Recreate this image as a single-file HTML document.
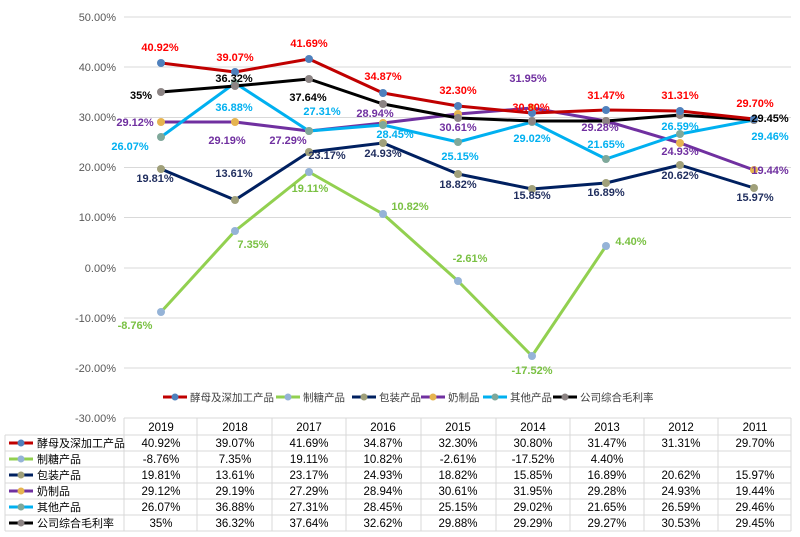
<!DOCTYPE html><html><head><meta charset="utf-8"><style>
body{margin:0;background:#fff;width:800px;height:532px;overflow:hidden}
svg text{font-family:"Liberation Sans","Noto Sans CJK SC",sans-serif}
</style></head><body>
<svg width="800" height="532" xmlns="http://www.w3.org/2000/svg">
<g stroke="#d9d9d9" stroke-width="1">
<line x1="124" x2="791" y1="17" y2="17"/><line x1="124" x2="791" y1="67" y2="67"/><line x1="124" x2="791" y1="117.5" y2="117.5"/><line x1="124" x2="791" y1="167.5" y2="167.5"/><line x1="124" x2="791" y1="217.5" y2="217.5"/><line x1="124" x2="791" y1="268" y2="268"/><line x1="124" x2="791" y1="318" y2="318"/><line x1="124" x2="791" y1="368" y2="368"/>
</g>
<g font-size="11" fill="#595959" text-anchor="end">
<text x="116" y="21">50.00%</text><text x="116" y="71">40.00%</text><text x="116" y="121">30.00%</text><text x="116" y="171">20.00%</text><text x="116" y="221">10.00%</text><text x="116" y="272">0.00%</text><text x="116" y="322">-10.00%</text><text x="116" y="372">-20.00%</text><text x="116" y="422">-30.00%</text>
</g>
<g fill="none" stroke-width="3" stroke-linejoin="round">
<polyline stroke="#7030a0" points="161,122 235,122 309,131 383,123 458,114 532,108 606,121 680,143 754,170"/>
<polyline stroke="#00b0f0" points="161,137 235,83 309,131 383,125 458,142 532,122 606,159 680,134 754,120"/>
<polyline stroke="#002060" points="161,169 235,200 309,152 383,143 458,174 532,189 606,183 680,165 754,188"/>
<polyline stroke="#92d050" points="161,312 235,231 309,172 383,214 458,281 532,356 606,246"/>
<polyline stroke="#000" points="161,92 235,86 309,79 383,104 458,118 532,121 606,121 680,115 754,120"/>
<polyline stroke="#c00000" points="161,63 235,72 309,59 383,93 458,106 532,113 606,110 680,111 754,119"/>
</g>
<g stroke="none">
<g fill="#e6b450"><circle cx="161" cy="122" r="4"/><circle cx="235" cy="122" r="4"/><circle cx="309" cy="131" r="4"/><circle cx="383" cy="123" r="4"/><circle cx="458" cy="114" r="4"/><circle cx="532" cy="108" r="4"/><circle cx="606" cy="121" r="4"/><circle cx="680" cy="143" r="4"/><circle cx="754" cy="170" r="4"/></g>
<g fill="#7fa89a"><circle cx="161" cy="137" r="4"/><circle cx="235" cy="83" r="4"/><circle cx="309" cy="131" r="4"/><circle cx="383" cy="125" r="4"/><circle cx="458" cy="142" r="4"/><circle cx="532" cy="122" r="4"/><circle cx="606" cy="159" r="4"/><circle cx="680" cy="134" r="4"/><circle cx="754" cy="120" r="4"/></g>
<g fill="#a0a07a"><circle cx="161" cy="169" r="4"/><circle cx="235" cy="200" r="4"/><circle cx="309" cy="152" r="4"/><circle cx="383" cy="143" r="4"/><circle cx="458" cy="174" r="4"/><circle cx="532" cy="189" r="4"/><circle cx="606" cy="183" r="4"/><circle cx="680" cy="165" r="4"/><circle cx="754" cy="188" r="4"/></g>
<g fill="#95b3d7"><circle cx="161" cy="312" r="4"/><circle cx="235" cy="231" r="4"/><circle cx="309" cy="172" r="4"/><circle cx="383" cy="214" r="4"/><circle cx="458" cy="281" r="4"/><circle cx="532" cy="356" r="4"/><circle cx="606" cy="246" r="4"/></g>
<g fill="#8c8484"><circle cx="161" cy="92" r="4"/><circle cx="235" cy="86" r="4"/><circle cx="309" cy="79" r="4"/><circle cx="383" cy="104" r="4"/><circle cx="458" cy="118" r="4"/><circle cx="532" cy="121" r="4"/><circle cx="606" cy="121" r="4"/><circle cx="680" cy="115" r="4"/><circle cx="754" cy="120" r="4"/></g>
<g fill="#4f81bd"><circle cx="161" cy="63" r="4"/><circle cx="235" cy="72" r="4"/><circle cx="309" cy="59" r="4"/><circle cx="383" cy="93" r="4"/><circle cx="458" cy="106" r="4"/><circle cx="532" cy="113" r="4"/><circle cx="606" cy="110" r="4"/><circle cx="680" cy="111" r="4"/><circle cx="754" cy="119" r="4"/></g>
</g>
<g font-size="11" font-weight="bold" text-anchor="middle">
<g fill="#ff0000"><text x="160" y="51">40.92%</text><text x="235" y="61">39.07%</text><text x="309" y="47">41.69%</text><text x="383" y="80">34.87%</text><text x="458" y="94">32.30%</text><text x="531" y="111">30.80%</text><text x="606" y="99">31.47%</text><text x="680" y="99">31.31%</text><text x="755" y="107">29.70%</text></g>
<g fill="#000"><text x="141" y="99">35%</text><text x="234" y="82">36.32%</text><text x="308" y="101">37.64%</text><text x="770" y="122">29.45%</text></g>
<g fill="#00b0f0"><text x="130" y="150">26.07%</text><text x="234" y="111">36.88%</text><text x="322" y="115">27.31%</text><text x="395" y="138">28.45%</text><text x="460" y="160">25.15%</text><text x="532" y="142">29.02%</text><text x="606" y="148">21.65%</text><text x="680" y="130">26.59%</text><text x="770" y="140">29.46%</text></g>
<g fill="#7030a0"><text x="135" y="126">29.12%</text><text x="227" y="144">29.19%</text><text x="288" y="144">27.29%</text><text x="375" y="117">28.94%</text><text x="458" y="131">30.61%</text><text x="528" y="82">31.95%</text><text x="600" y="131">29.28%</text><text x="680" y="155">24.93%</text><text x="770" y="174">19.44%</text></g>
<g fill="#1f2d5e"><text x="155" y="182">19.81%</text><text x="234" y="177">13.61%</text><text x="327" y="159">23.17%</text><text x="383" y="157">24.93%</text><text x="458" y="188">18.82%</text><text x="532" y="199">15.85%</text><text x="606" y="196">16.89%</text><text x="680" y="179">20.62%</text><text x="755" y="201">15.97%</text></g>
<g fill="#7ac143"><text x="135" y="329">-8.76%</text><text x="253" y="248">7.35%</text><text x="310" y="192">19.11%</text><text x="410" y="210">10.82%</text><text x="470" y="262">-2.61%</text><text x="532" y="374">-17.52%</text><text x="631" y="245">4.40%</text></g>
</g>
<g font-size="10.5" fill="#404040">
<line x1="163" y1="397" x2="187" y2="397" stroke="#c00000" stroke-width="3"/><circle cx="175" cy="397" r="3.5" fill="#4f81bd"/><text x="190" y="401">酵母及深加工产品</text>
<line x1="276" y1="397" x2="300" y2="397" stroke="#92d050" stroke-width="3"/><circle cx="288" cy="397" r="3.5" fill="#95b3d7"/><text x="303" y="401">制糖产品</text>
<line x1="352" y1="397" x2="376" y2="397" stroke="#002060" stroke-width="3"/><circle cx="364" cy="397" r="3.5" fill="#a0a07a"/><text x="379" y="401">包装产品</text>
<line x1="421" y1="397" x2="445" y2="397" stroke="#7030a0" stroke-width="3"/><circle cx="433" cy="397" r="3.5" fill="#e6b450"/><text x="448" y="401">奶制品</text>
<line x1="483" y1="397" x2="507" y2="397" stroke="#00b0f0" stroke-width="3"/><circle cx="495" cy="397" r="3.5" fill="#7fa89a"/><text x="510" y="401">其他产品</text>
<line x1="553" y1="397" x2="577" y2="397" stroke="#000" stroke-width="3"/><circle cx="565" cy="397" r="3.5" fill="#8c8484"/><text x="580" y="401">公司综合毛利率</text>
</g>
<g stroke="#d9d9d9" stroke-width="1" fill="none">
<line x1="124" y1="418" x2="791" y2="418"/>
<line x1="5" y1="435" x2="791" y2="435"/><line x1="5" y1="451" x2="791" y2="451"/><line x1="5" y1="467" x2="791" y2="467"/><line x1="5" y1="483" x2="791" y2="483"/><line x1="5" y1="499" x2="791" y2="499"/><line x1="5" y1="515" x2="791" y2="515"/><line x1="5" y1="531" x2="791" y2="531"/>
<line x1="5" y1="435" x2="5" y2="531"/>
<line x1="124" y1="418" x2="124" y2="531"/><line x1="197" y1="418" x2="197" y2="531"/><line x1="272" y1="418" x2="272" y2="531"/><line x1="346" y1="418" x2="346" y2="531"/><line x1="421" y1="418" x2="421" y2="531"/><line x1="496" y1="418" x2="496" y2="531"/><line x1="570" y1="418" x2="570" y2="531"/><line x1="644" y1="418" x2="644" y2="531"/><line x1="718" y1="418" x2="718" y2="531"/><line x1="791" y1="418" x2="791" y2="531"/>
</g>
<g font-size="11.5" fill="#000" text-anchor="middle">
<text x="161" y="431">2019</text><text x="235" y="431">2018</text><text x="309" y="431">2017</text><text x="383" y="431">2016</text><text x="458" y="431">2015</text><text x="533" y="431">2014</text><text x="607" y="431">2013</text><text x="681" y="431">2012</text><text x="755" y="431">2011</text>
<text x="161" y="447">40.92%</text><text x="235" y="447">39.07%</text><text x="309" y="447">41.69%</text><text x="383" y="447">34.87%</text><text x="458" y="447">32.30%</text><text x="533" y="447">30.80%</text><text x="607" y="447">31.47%</text><text x="681" y="447">31.31%</text><text x="755" y="447">29.70%</text>
<text x="161" y="463">-8.76%</text><text x="235" y="463">7.35%</text><text x="309" y="463">19.11%</text><text x="383" y="463">10.82%</text><text x="458" y="463">-2.61%</text><text x="533" y="463">-17.52%</text><text x="607" y="463">4.40%</text>
<text x="161" y="479">19.81%</text><text x="235" y="479">13.61%</text><text x="309" y="479">23.17%</text><text x="383" y="479">24.93%</text><text x="458" y="479">18.82%</text><text x="533" y="479">15.85%</text><text x="607" y="479">16.89%</text><text x="681" y="479">20.62%</text><text x="755" y="479">15.97%</text>
<text x="161" y="495">29.12%</text><text x="235" y="495">29.19%</text><text x="309" y="495">27.29%</text><text x="383" y="495">28.94%</text><text x="458" y="495">30.61%</text><text x="533" y="495">31.95%</text><text x="607" y="495">29.28%</text><text x="681" y="495">24.93%</text><text x="755" y="495">19.44%</text>
<text x="161" y="511">26.07%</text><text x="235" y="511">36.88%</text><text x="309" y="511">27.31%</text><text x="383" y="511">28.45%</text><text x="458" y="511">25.15%</text><text x="533" y="511">29.02%</text><text x="607" y="511">21.65%</text><text x="681" y="511">26.59%</text><text x="755" y="511">29.46%</text>
<text x="161" y="527">35%</text><text x="235" y="527">36.32%</text><text x="309" y="527">37.64%</text><text x="383" y="527">32.62%</text><text x="458" y="527">29.88%</text><text x="533" y="527">29.29%</text><text x="607" y="527">29.27%</text><text x="681" y="527">30.53%</text><text x="755" y="527">29.45%</text>
</g>
<g font-size="11" fill="#000">
<line x1="9" y1="443" x2="33" y2="443" stroke="#c00000" stroke-width="3"/><circle cx="21" cy="443" r="3.5" fill="#4f81bd"/><text x="37" y="447">酵母及深加工产品</text>
<line x1="9" y1="459" x2="33" y2="459" stroke="#92d050" stroke-width="3"/><circle cx="21" cy="459" r="3.5" fill="#95b3d7"/><text x="37" y="463">制糖产品</text>
<line x1="9" y1="475" x2="33" y2="475" stroke="#002060" stroke-width="3"/><circle cx="21" cy="475" r="3.5" fill="#a0a07a"/><text x="37" y="479">包装产品</text>
<line x1="9" y1="491" x2="33" y2="491" stroke="#7030a0" stroke-width="3"/><circle cx="21" cy="491" r="3.5" fill="#e6b450"/><text x="37" y="495">奶制品</text>
<line x1="9" y1="507" x2="33" y2="507" stroke="#00b0f0" stroke-width="3"/><circle cx="21" cy="507" r="3.5" fill="#7fa89a"/><text x="37" y="511">其他产品</text>
<line x1="9" y1="523" x2="33" y2="523" stroke="#000" stroke-width="3"/><circle cx="21" cy="523" r="3.5" fill="#8c8484"/><text x="37" y="527">公司综合毛利率</text>
</g>
</svg>
</body></html>
